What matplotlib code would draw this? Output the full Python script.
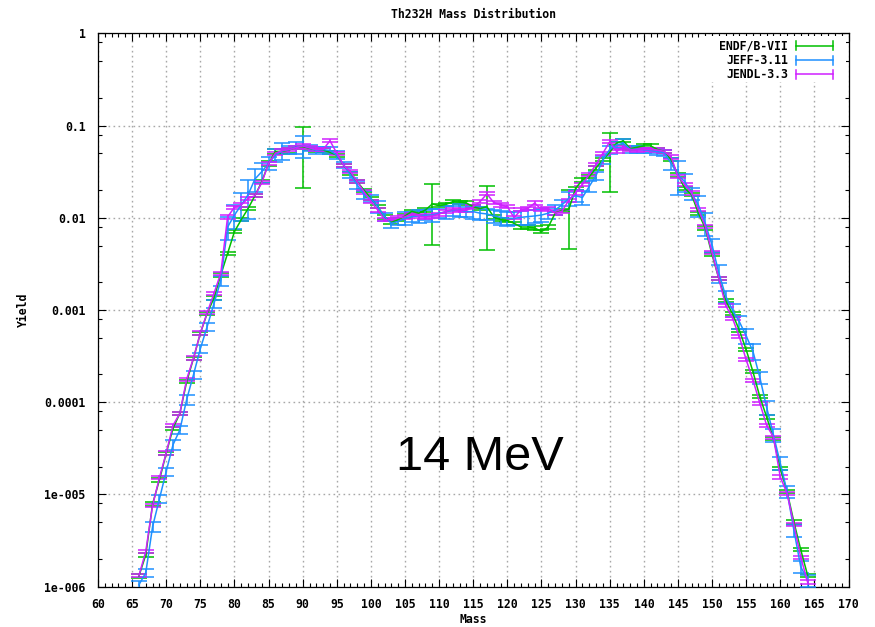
import numpy as np
import matplotlib
matplotlib.use("Agg")
import matplotlib.pyplot as plt
from matplotlib.patches import Rectangle
from matplotlib.ticker import FixedLocator, MultipleLocator, NullFormatter

# Fission product mass numbers
mass = np.arange(66, 165)

# log10 of the chain yields, one entry per mass number (66 ... 164)
endf_log = [
    -5.885, -5.657, -5.104, -4.844, -4.554, -4.283, -4.12, -3.777, -3.524, -3.253,
    -3.036, -2.87, -2.62, -2.385, -2.15, -2.02, -1.90, -1.76, -1.61, -1.41,
    -1.28, -1.28, -1.265, -1.235, -1.229, -1.246, -1.265, -1.265, -1.29, -1.32,
    -1.43, -1.52, -1.61, -1.70, -1.79, -1.88, -1.99, -2.05, -2.02, -1.98,
    -1.93, -1.95, -1.915, -1.85, -1.87, -1.855, -1.825, -1.83, -1.84, -1.88,
    -1.90, -1.88, -1.99, -2.02, -2.03, -2.06, -2.10, -2.10, -2.11, -2.15,
    -2.10, -1.95, -1.92, -1.91, -1.68, -1.59, -1.555, -1.46, -1.37, -1.29,
    -1.19, -1.165, -1.25, -1.235, -1.22, -1.22, -1.258, -1.28, -1.37, -1.535,
    -1.68, -1.75, -1.95, -2.11, -2.40, -2.66, -2.90, -3.04, -3.22, -3.43,
    -3.67, -3.94, -4.16, -4.39, -4.72, -4.97, -5.30, -5.60, -5.875,
]
jeff_log = [
    -5.98, -5.85, -5.35, -5.05, -4.75, -4.46, -4.30, -3.97, -3.70, -3.42,
    -3.18, -2.93, -2.68, -2.10, -1.97, -1.86, -1.75, -1.58, -1.50, -1.41,
    -1.32, -1.275, -1.26, -1.235, -1.218, -1.24, -1.27, -1.26, -1.27, -1.32,
    -1.426, -1.535, -1.644, -1.75, -1.79, -1.88, -1.987, -2.06, -2.04, -2.006,
    -1.987, -1.98, -1.97, -1.97, -1.95, -1.933, -1.92, -1.915, -1.933, -1.933,
    -1.95, -1.958, -1.98, -1.995, -2.006, -2.006, -1.995, -1.987, -1.98, -1.97,
    -1.95, -1.915, -1.86, -1.79, -1.76, -1.78, -1.66, -1.54, -1.37, -1.258,
    -1.21, -1.192, -1.258, -1.258, -1.265, -1.27, -1.283, -1.293, -1.41, -1.535,
    -1.608, -1.735, -1.86, -2.06, -2.295, -2.60, -2.85, -3.00, -3.127, -3.28,
    -3.45, -3.73, -4.056, -4.356, -4.66, -4.97, -5.39, -5.785, -5.93,
]
jendl_log = [
    -5.88, -5.62, -5.12, -4.82, -4.55, -4.25, -4.12, -3.75, -3.52, -3.25,
    -3.03, -2.82, -2.60, -1.99, -1.886, -1.86, -1.79, -1.76, -1.62, -1.41,
    -1.30, -1.27, -1.26, -1.24, -1.22, -1.24, -1.26, -1.26, -1.164, -1.30,
    -1.43, -1.50, -1.61, -1.72, -1.825, -1.915, -2.02, -2.02, -2.00, -1.99,
    -1.96, -1.98, -1.99, -1.98, -1.96, -1.93, -1.91, -1.92, -1.92, -1.88,
    -1.825, -1.74, -1.835, -1.86, -1.88, -2.00, -1.91, -1.90, -1.84, -1.91,
    -1.90, -1.95, -1.93, -1.81, -1.73, -1.64, -1.53, -1.42, -1.30, -1.175,
    -1.28, -1.235, -1.26, -1.265, -1.26, -1.26, -1.265, -1.28, -1.34, -1.55,
    -1.64, -1.73, -1.91, -2.09, -2.38, -2.66, -2.95, -3.09, -3.29, -3.54,
    -3.76, -4.01, -4.25, -4.38, -4.81, -4.99, -5.33, -5.68, -5.95,
]

# Relative uncertainties in percent, same mass grid
endf_err_pct = [
    4, 4, 4, 4, 4, 4, 4, 4, 4, 4,
    4, 4, 4, 4, 4, 4, 4, 4, 4, 6,
    6, 6, 6, 4, 64, 4, 4, 4, 4, 4,
    4, 4, 4, 4, 4, 4, 4, 4, 4, 4,
    4, 4, 4, 64, 4, 4, 4, 4, 4, 4,
    4, 66, 4, 4, 4, 4, 4, 4, 4, 4,
    4, 4, 4, 63, 4, 4, 4, 4, 4, 63,
    4, 4, 4, 4, 4, 4, 4, 4, 4, 4,
    4, 4, 4, 4, 4, 4, 4, 4, 4, 4,
    4, 4, 4, 4, 4, 4, 4, 4, 4,
]
jeff_err_pct = [
    10, 10, 12, 10, 10, 12, 10, 12, 10, 10,
    10, 10, 12, 27, 30, 33, 45, 28, 25, 16,
    16, 21, 10, 15, 26, 8, 8, 6, 8, 10,
    8, 8, 10, 10, 8, 15, 10, 10, 8, 16,
    12, 16, 12, 16, 12, 16, 12, 16, 12, 16,
    16, 14, 16, 18, 18, 16, 18, 18, 16, 16,
    14, 12, 12, 18, 14, 18, 14, 10, 10, 10,
    8, 10, 8, 8, 6, 6, 8, 8, 15, 40,
    22, 15, 26, 28, 15, 21, 15, 15, 16, 18,
    20, 15, 18, 15, 16, 15, 15, 15, 15,
]
jendl_err_pct = [4] * 99

series_names = ["ENDF/B-VII", "JEFF-3.11", "JENDL-3.3"]
series_colors = ["#00c000", "#1e90ff", "#d020ff"]
series_logs = [endf_log, jeff_log, jendl_log]
series_errs = [endf_err_pct, jeff_err_pct, jendl_err_pct]

xticks = np.arange(60, 171, 5)
yticks = [1e-6, 1e-5, 1e-4, 1e-3, 1e-2, 1e-1, 1]
ytick_labels = ["1e-006", "1e-005", "0.0001", "0.001", "0.01", "0.1", "1"]

mono = {"family": "DejaVu Sans Mono", "weight": "bold", "size": 8.3}

W, H = 875, 627
L, R, T, B = 98.0, 848.5, 33.4, 586.6

fig = plt.figure(figsize=(W / 100, H / 100), dpi=100)
ax = fig.add_axes([L / W, 1 - B / H, (R - L) / W, (B - T) / H])
ax.set_axisbelow(True)

for logs, errs, color in zip(series_logs, series_errs, series_colors):
    y = 10 ** np.asarray(logs)
    e = y * np.asarray(errs) / 100.0
    ax.errorbar(mass, y, yerr=e, color=color, lw=1.1, elinewidth=1.1,
                capsize=5.5, capthick=1.1, zorder=3)

ax.set_yscale("log")
ax.set_xlim(60, 170)
ax.set_ylim(1e-6, 1)

ax.xaxis.set_major_locator(FixedLocator(xticks))
ax.xaxis.set_minor_locator(MultipleLocator(1))
ax.set_xticklabels([str(v) for v in xticks], fontdict=mono)

minor_y = [m * 10.0 ** k for k in range(-6, 0) for m in (2, 5, 8)]
ax.yaxis.set_major_locator(FixedLocator(yticks))
ax.yaxis.set_minor_locator(FixedLocator(minor_y))
ax.yaxis.set_minor_formatter(NullFormatter())
ax.set_yticklabels(ytick_labels, fontdict=mono)

ax.tick_params(which="both", direction="in", top=True, right=True,
               color="black", width=0.8)
ax.tick_params(which="major", length=6)
ax.tick_params(axis="y", which="major", pad=9)
ax.tick_params(axis="x", which="major", pad=8)
ax.tick_params(which="minor", length=3)

ax.grid(True, which="major", color="#a8a8a8", linestyle=(0, (1.2, 2.4)),
        linewidth=1.0)
for s in ax.spines.values():
    s.set_linewidth(0.9)
    s.set_color("black")

ax.set_xlabel("Mass", fontdict=mono, labelpad=2)
ax.set_ylabel("Yield", fontdict=mono, labelpad=10)
fig.text((L + R) / 2 / W, 1 - 14 / H, "Th232H Mass Distribution",
         ha="center", va="center", fontdict=mono)


# key in the upper right corner: label, line and end caps
def px_to_axes(px, py):
    return (px - L) / (R - L), 1 - (py - T) / (B - T)


kx0, ky0 = px_to_axes(702, 82)
kx1, ky1 = px_to_axes(846, 36)
ax.add_patch(Rectangle((kx0, ky0), kx1 - kx0, ky1 - ky0, transform=ax.transAxes,
                       facecolor="white", edgecolor="none", zorder=1))

cap_half = 4.5 / (B - T)
for i, (name, color) in enumerate(zip(series_names, series_colors)):
    py = 45.7 + i * 14.3
    tx, ty = px_to_axes(788, py)
    ax.text(tx, ty, name, transform=ax.transAxes, ha="right", va="center",
            fontdict=mono, zorder=4)
    x0, yy = px_to_axes(796, py)
    x1, _ = px_to_axes(833, py)
    ax.plot([x0, x1], [yy, yy], color=color, lw=1.1, transform=ax.transAxes,
            zorder=4)
    for xe in (x0, x1):
        ax.plot([xe, xe], [yy - cap_half, yy + cap_half], color=color, lw=1.1,
                transform=ax.transAxes, zorder=4)

ax.text(0.509, 0.234, "14 MeV", transform=ax.transAxes, ha="center",
        va="center", fontsize=35, family="Liberation Sans")

fig.savefig("out.png", dpi=100)
